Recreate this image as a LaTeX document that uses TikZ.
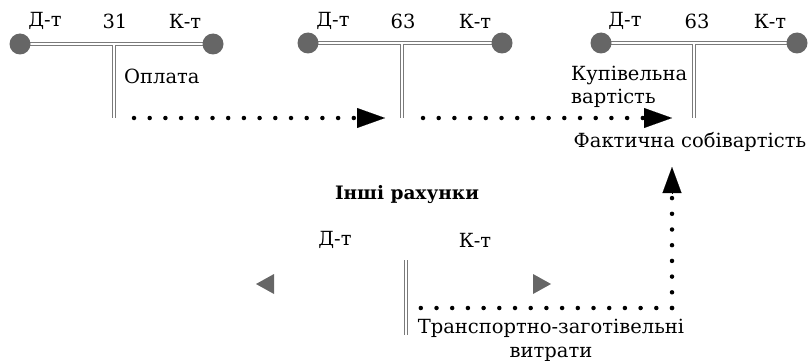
\documentclass[tikz,border=0pt]{standalone}
\usepackage{fontspec}
\setmainfont{DejaVu Serif}
\usetikzlibrary{arrows.meta}
\definecolor{cgray}{HTML}{666666}
\definecolor{lgray}{HTML}{7a7a7a}
\begin{document}
\begin{tikzpicture}[x=1pt,y=-1pt,
  lbl/.style={font=\fontsize{19.5}{24}\selectfont, inner sep=0pt},
  dotc/.style={circle, fill=cgray, minimum size=21pt, inner sep=0pt},
  outerln/.style={draw=lgray, line width=4.8pt},
  innerln/.style={draw=white, line width=2.2pt},
  dotline/.style={line width=4.5pt, line cap=round, dash pattern=on 0pt off 15.7pt},
  tipline/.style={line width=0.1pt, -{Triangle[length=28pt,width=20pt]}},
  tri/.style={fill=cgray}]
\useasboundingbox (0,0) rectangle (808,361);
% ---- account 31
\coordinate (l1) at (20,44); \coordinate (r1) at (213,44);
\coordinate (t1) at (114,44); \coordinate (b1) at (114,118);
% ---- account 63 (middle)
\coordinate (l2) at (308,43); \coordinate (r2) at (502,43);
\coordinate (t2) at (402,43); \coordinate (b2) at (402,118);
% ---- account 63 (right)
\coordinate (l3) at (601,43); \coordinate (r3) at (797,43);
\coordinate (t3) at (694,43); \coordinate (b3) at (694,118);
% ---- other accounts
\coordinate (t4) at (406,260); \coordinate (b4) at (406,335);
\foreach \i in {1,2,3}{
  \draw[outerln] (l\i) -- (r\i) (t\i) -- (b\i);
}
\draw[outerln] (t4) -- (b4);
\foreach \i in {1,2,3}{
  \draw[innerln] (l\i) -- (r\i) (t\i) -- (b\i);
}
\draw[innerln] (t4) -- (b4);
\foreach \i in {1,2,3}{
  \node[dotc] (cl\i) at (l\i) {};
  \node[dotc] (cr\i) at (r\i) {};
}
% labels
\node[lbl] (d1) at (45,21) {Д-т};
\node[lbl] (n1) at (115,21) {31};
\node[lbl] (k1) at (185,21) {К-т};
\node[lbl] (d2) at (333,21) {Д-т};
\node[lbl] (n2) at (403,21) {63};
\node[lbl] (k2) at (475,21) {К-т};
\node[lbl] (d3) at (625,21) {Д-т};
\node[lbl] (n3) at (697,21) {63};
\node[lbl] (k3) at (770,21) {К-т};
\node[lbl, anchor=west] (opl) at (124,76) {Оплата};
\node[lbl, anchor=west] (kup) at (571,75) {Купівельна};
\node[lbl, anchor=west] (var) at (571,98) {вартість};
\node[lbl] (fact) at (690,142) {Фактична собівартість};
\node[lbl, font=\fontsize{18.5}{24}\selectfont\bfseries] (inshi) at (407,195) {Інші рахунки};
\node[lbl] (d4) at (335,240) {Д-т};
\node[lbl] (k4) at (475,240) {К-т};
\node[lbl, align=center] (trans) at (551,340) {Транспортно-заготівельні\\витрати};
% triangles
\fill[tri] (256,284) -- (274,274) -- (274,294) -- cycle;
\fill[tri] (551,284) -- (533,274) -- (533,294) -- cycle;
% dotted connectors
\coordinate (s1) at (134,118); \coordinate (e1) at (357,118); \coordinate (a1) at (385,118);
\coordinate (s2) at (423,118); \coordinate (e2) at (645,118); \coordinate (a2) at (672,118);
\coordinate (s3) at (418,308); \coordinate (c3) at (672,308); \coordinate (e3) at (672,193); \coordinate (a3) at (672,167);
\draw[dotline] (s1) -- (e1);
\draw[tipline] (e1) -- (a1);
\draw[dotline] (s2) -- (e2);
\draw[tipline] (e2) -- (a2);
\draw[dotline] (c3) -- (s3);
\draw[dotline] (c3) -- (e3);
\draw[line width=0.1pt, -{Triangle[length=26pt,width=19pt]}] (e3) -- (a3);
\end{tikzpicture}
\end{document}
